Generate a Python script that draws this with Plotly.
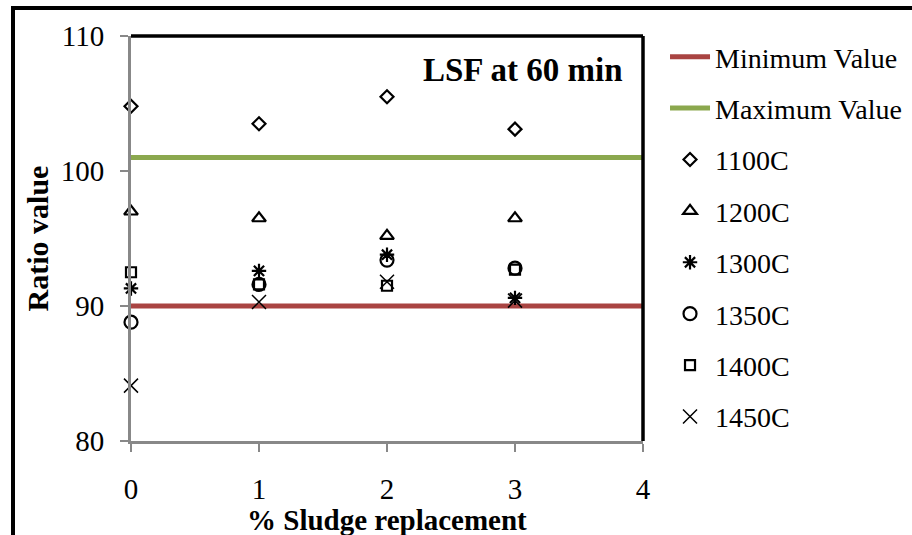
import plotly.graph_objects as go

x_vals = [0, 1, 2, 3]
series_names = ["1100C", "1200C", "1300C", "1350C", "1400C", "1450C"]
s1100 = [104.8, 103.5, 105.5, 103.1]
s1200 = [97.0, 96.5, 95.2, 96.5]
s1300 = [91.3, 92.6, 93.8, 90.6]
s1350 = [88.8, 91.6, 93.4, 92.8]
s1400 = [92.5, 91.6, 91.5, 92.7]
s1450 = [84.1, 90.3, 91.8, 90.4]
series_vals = [s1100, s1200, s1300, s1350, s1400, s1450]
symbols = ["diamond-open", "triangle-up-open", "asterisk-open", "circle-open", "square-open", "x-thin-open"]
sizes = [10, 12, 12, 13, 10, 14]

min_value = 90
max_value = 101
line_x = [0, 4]

x_ticks = [0, 1, 2, 3, 4]
y_ticks = [80, 90, 100, 110]

FONT = "Liberation Serif, Times New Roman, serif"

fig = go.Figure()
fig.add_trace(go.Scatter(x=line_x, y=[min_value, min_value], mode="lines",
                         name="Minimum Value", line=dict(color="#A94442", width=5),
                         legendgroup="g0"))
fig.add_trace(go.Scatter(x=line_x, y=[max_value, max_value], mode="lines",
                         name="Maximum Value", line=dict(color="#8BA84E", width=5),
                         legendgroup="g1"))
for i, (nm, vals, sym, sz) in enumerate(zip(series_names, series_vals, symbols, sizes)):
    fig.add_trace(go.Scatter(
        x=x_vals, y=vals, mode="markers", name=nm, legendgroup=f"s{i}",
        marker=dict(symbol=sym, size=sz, color="black",
                    line=dict(color="black", width=2.2 if i != 5 else 1.5)),
        cliponaxis=False))

fig.update_layout(
    width=912, height=535,
    margin=dict(l=131, r=269, t=36, b=94, autoexpand=False),
    paper_bgcolor="white", plot_bgcolor="white",
    font=dict(family=FONT, color="black", size=28),
    showlegend=True,
    legend=dict(x=1.043, y=1.01, xanchor="left", yanchor="top",
                font=dict(size=28, family=FONT), tracegroupgap=12,
                traceorder="grouped", itemwidth=40, bgcolor="rgba(0,0,0,0)",
                maxheight=700),
    xaxis=dict(range=[0, 4], tickvals=x_ticks, showgrid=False, zeroline=False,
               showline=True, linecolor="#888888", linewidth=3,
               ticks="outside", ticklen=8, tickcolor="#888888", tickwidth=1.5,
               ticklabelstandoff=12, tickfont=dict(size=29)),
    yaxis=dict(range=[80, 110], tickvals=y_ticks, showgrid=False, zeroline=False,
               showline=True, linecolor="#888888", linewidth=3,
               ticks="outside", ticklen=8, tickcolor="#888888", tickwidth=1.5,
               ticklabelstandoff=10, tickfont=dict(size=29),
               title=dict(text="<b>Ratio value</b>", font=dict(size=30), standoff=4)),
    shapes=[
        dict(type="line", xref="paper", yref="paper", x0=0, x1=1, y0=1, y1=1,
             line=dict(color="black", width=3.5), layer="above"),
        dict(type="line", xref="paper", yref="paper", x0=1, x1=1, y0=0, y1=1,
             line=dict(color="black", width=3.5), layer="above"),
        dict(type="line", xref="paper", yref="paper",
             x0=(13 - 131) / 512, x1=(13 - 131) / 512, y0=(441 - 540) / 405, y1=(441 - 8) / 405,
             line=dict(color="black", width=4)),
        dict(type="line", xref="paper", yref="paper",
             x0=(11 - 131) / 512, x1=(920 - 131) / 512, y0=(441 - 8) / 405, y1=(441 - 8) / 405,
             line=dict(color="black", width=4)),
    ],
    annotations=[
        dict(text="<b>LSF at 60 min</b>", xref="paper", yref="paper",
             x=0.965, y=0.915, xanchor="right", yanchor="middle",
             showarrow=False, font=dict(size=33, family=FONT)),
        dict(text="<b>% Sludge replacement</b>", xref="paper", yref="paper",
             x=0.5, y=(441 - 520) / 405, xanchor="center", yanchor="middle",
             showarrow=False, font=dict(size=29, family=FONT)),
    ],
)

fig.write_html("out.html")
